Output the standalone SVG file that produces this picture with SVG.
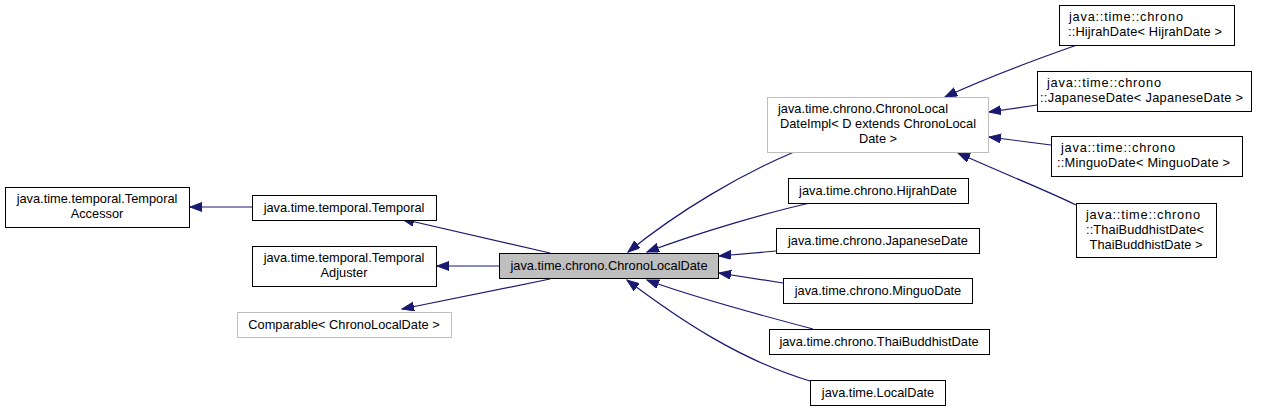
<svg xmlns="http://www.w3.org/2000/svg" width="1261" height="411" viewBox="0 0 1261 411">
<style>
text{font-family:"Liberation Sans",Arial,sans-serif;font-size:12.8px;fill:#000}
.c{text-anchor:middle}
.s{text-anchor:start}
.n{fill:#fff;stroke:#000;stroke-width:1}
.g{fill:#fff;stroke:#bfbfbf;stroke-width:1}
.h{fill:#bfbfbf;stroke:#000;stroke-width:1}
.e{fill:none;stroke:#191970;stroke-width:1.2}
</style>
<defs>
<marker id="ah" markerUnits="userSpaceOnUse" markerWidth="13" markerHeight="10" refX="12" refY="4.5" orient="auto">
<path d="M0,0 L12,4.5 L0,9 z" fill="#191970" stroke="#191970" stroke-width="1"/>
</marker>
</defs>
<rect width="1261" height="411" fill="#fff"/>
<g id="connectors">
<path class="e" marker-end="url(#ah)" d="M252,207 L190,207"/>
<path class="e" marker-end="url(#ah)" d="M550,253 L402,219"/>
<path class="e" marker-end="url(#ah)" d="M499,266 L437,266"/>
<path class="e" marker-end="url(#ah)" d="M550,279 L402,309"/>
<path class="e" marker-end="url(#ah)" d="M794,152 C740,175 680,210 628,252"/>
<path class="e" marker-end="url(#ah)" d="M810,203 C770,212 700,232 647,252"/>
<path class="e" marker-end="url(#ah)" d="M776,251 L719,256"/>
<path class="e" marker-end="url(#ah)" d="M783,283 L719,273"/>
<path class="e" marker-end="url(#ah)" d="M813,329 C760,315 690,296 647,280"/>
<path class="e" marker-end="url(#ah)" d="M810,381 C740,360 680,320 627,280"/>
<path class="e" marker-end="url(#ah)" d="M1077,45 C1040,58 990,76 945,97"/>
<path class="e" marker-end="url(#ah)" d="M1037,105 L989,112"/>
<path class="e" marker-end="url(#ah)" d="M1051,145 L989,137"/>
<path class="e" marker-end="url(#ah)" d="M1076,205 C1050,192 1000,172 958,153"/>
</g>
<g id="TemporalAccessor"><rect class="n" x="5.5" y="187.5" width="184" height="40"/><text class="c" x="97" y="203">java.time.temporal.Temporal</text><text class="c" x="97" y="218">Accessor</text></g>
<g id="Temporal"><rect class="n" x="252.5" y="195.5" width="184" height="25"/><text class="c" x="344" y="212">java.time.temporal.Temporal</text></g>
<g id="TemporalAdjuster"><rect class="n" x="252.5" y="246.5" width="184" height="40"/><text class="c" x="344" y="262">java.time.temporal.Temporal</text><text class="c" x="344" y="277">Adjuster</text></g>
<g id="Comparable"><rect class="g" x="237.5" y="312.5" width="214" height="25"/><text class="c" x="344" y="329">Comparable&lt; ChronoLocalDate &gt;</text></g>
<g id="ChronoLocalDate"><rect class="h" x="499.5" y="253.5" width="219" height="25"/><text class="c" x="609" y="270">java.time.chrono.ChronoLocalDate</text></g>
<g id="ChronoLocalDateImpl"><rect class="g" x="767.5" y="97.5" width="221" height="55"/><text class="s" x="778" y="112.5">java.time.chrono.ChronoLocal</text><text class="c" x="878" y="127.5">DateImpl&lt; D extends ChronoLocal</text><text class="c" x="878" y="142.5">Date &gt;</text></g>
<g id="HijrahDate"><rect class="n" x="788.5" y="178.5" width="180" height="25"/><text class="c" x="878" y="195">java.time.chrono.HijrahDate</text></g>
<g id="JapaneseDate"><rect class="n" x="776.5" y="228.5" width="203" height="25"/><text class="c" x="878" y="245">java.time.chrono.JapaneseDate</text></g>
<g id="MinguoDate"><rect class="n" x="783.5" y="278.5" width="189" height="25"/><text class="c" x="878" y="295">java.time.chrono.MinguoDate</text></g>
<g id="ThaiBuddhistDate"><rect class="n" x="769.5" y="329.5" width="220" height="25"/><text class="c" x="879" y="346">java.time.chrono.ThaiBuddhistDate</text></g>
<g id="LocalDate"><rect class="n" x="810.5" y="380.5" width="135" height="25"/><text class="c" x="878" y="397">java.time.LocalDate</text></g>
<g id="HijrahDateT"><rect class="n" x="1059.5" y="5.5" width="175" height="40"/><text class="s" x="1069" y="21" textLength="114" lengthAdjust="spacing">java::time::chrono</text><text class="s" x="1068" y="36" textLength="154" lengthAdjust="spacing">::HijrahDate&lt; HijrahDate &gt;</text></g>
<g id="JapaneseDateT"><rect class="n" x="1037.5" y="71.5" width="214" height="40"/><text class="s" x="1047" y="87" textLength="114" lengthAdjust="spacing">java::time::chrono</text><text class="s" x="1040" y="102" textLength="203" lengthAdjust="spacing">::JapaneseDate&lt; JapaneseDate &gt;</text></g>
<g id="MinguoDateT"><rect class="n" x="1051.5" y="136.5" width="191" height="40"/><text class="s" x="1061" y="152" textLength="114" lengthAdjust="spacing">java::time::chrono</text><text class="s" x="1057" y="167" textLength="173" lengthAdjust="spacing">::MinguoDate&lt; MinguoDate &gt;</text></g>
<g id="ThaiBuddhistDateT"><rect class="n" x="1076.5" y="203.5" width="140" height="54"/><text class="s" x="1086" y="218.5" textLength="114" lengthAdjust="spacing">java::time::chrono</text><text class="s" x="1086" y="233.5" textLength="118" lengthAdjust="spacing">::ThaiBuddhistDate&lt;</text><text class="c" x="1146" y="248.5">ThaiBuddhistDate &gt;</text></g>
</svg>
